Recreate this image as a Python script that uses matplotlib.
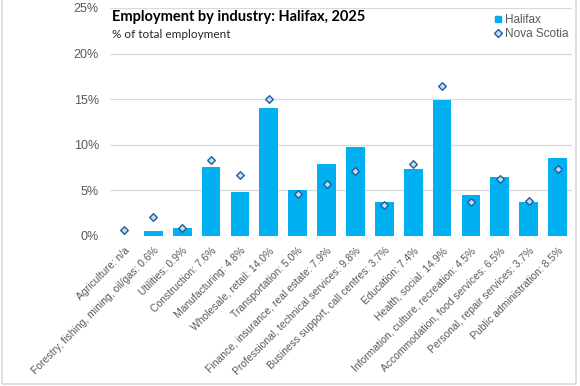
import numpy as np
import matplotlib.pyplot as plt
from matplotlib.lines import Line2D
from matplotlib.patches import Rectangle

# 数据
industries = ["Agriculture: n/a", "Forestry, fishing, mining, oil/gas: 0.6%", "Utilities: 0.9%",
              "Construction: 7.6%", "Manufacturing: 4.8%", "Wholesale, retail: 14.0%",
              "Transportation: 5.0%", "Finance, insurance, real estate: 7.9%",
              "Professional, technical services: 9.8%", "Business support, call centres: 3.7%",
              "Education: 7.4%", "Health, social: 14.9%", "Information, culture, recreation: 4.5%",
              "Accommodation, food services: 6.5%", "Personal, repair services: 3.7%",
              "Public administration: 8.5%"]
halifax = [np.nan, 0.6, 0.9, 7.6, 4.8, 14.0, 5.0, 7.9, 9.8, 3.7, 7.4, 14.9, 4.5, 6.5, 3.7, 8.5]
nova_scotia = [0.7, 2.1, 0.9, 8.3, 6.7, 15.0, 4.6, 5.7, 7.1, 3.4, 7.9, 16.4, 3.7, 6.2, 3.8, 7.3]
yticks = [0, 5, 10, 15, 20, 25]

plt.rcParams['font.family'] = ['Liberation Sans', 'DejaVu Sans']
grey = '#595959'

fig = plt.figure(figsize=(5.8, 3.86), dpi=100)
ax = fig.add_axes([110/580, 1 - 236/386, 462/580, 228/386])

x = np.arange(len(industries))
ax.bar(x, halifax, width=0.65, color='#00B0F0', zorder=2)
ax.scatter(x, nova_scotia, marker='D', s=15, facecolor='#C5DDF2', edgecolor='#1F5FA0',
           linewidth=1.0, zorder=3)

ax.set_xlim(-0.5, len(industries) - 0.5)
ax.set_ylim(0, 25)
ax.set_yticks(yticks)
ax.set_yticklabels([f"{v}%" for v in yticks], fontsize=9, color=grey)
ax.set_xticks(x)
ax.set_xticklabels(industries, rotation=45, ha='right', rotation_mode='anchor',
                   fontsize=7.5, color=grey)
ax.tick_params(axis='both', length=0)
ax.tick_params(axis='y', pad=8)
ax.tick_params(axis='x', pad=7)
ax.grid(axis='y', color='#D9D9D9', linewidth=0.9, zorder=0)
for s in ax.spines.values():
    s.set_visible(False)

fig.text(112/580, 1 - 17/386, "Employment by industry: Halifax, 2025", fontsize=10.5,
         fontweight='bold', family=['Lato', 'DejaVu Sans'], va='center', ha='left')
fig.text(112/580, 1 - 34/386, "% of total employment", fontsize=8.5,
         family=['Lato', 'DejaVu Sans'], color='#262626', va='center', ha='left')

handles = [Line2D([], [], marker='s', linestyle='none', markersize=5, color='#00B0F0'),
           Line2D([], [], marker='D', linestyle='none', markersize=4,
                  markerfacecolor='#C5DDF2', markeredgecolor='#1F5FA0')]
ax.legend(handles, ["Halifax", "Nova Scotia"], loc='upper left',
          bbox_to_anchor=(486/580, 1 - 6/386), bbox_transform=fig.transFigure,
          frameon=False, fontsize=8.5, handlelength=0.7, handletextpad=0.2,
          labelspacing=0.15, borderpad=0.2, labelcolor=grey)

fig.patches.append(Rectangle((2/580, 2/386), 574/580, 1.2, transform=fig.transFigure,
                             fill=False, edgecolor='#D9D9D9', linewidth=1.2))

fig.savefig("out.png", dpi=100)
